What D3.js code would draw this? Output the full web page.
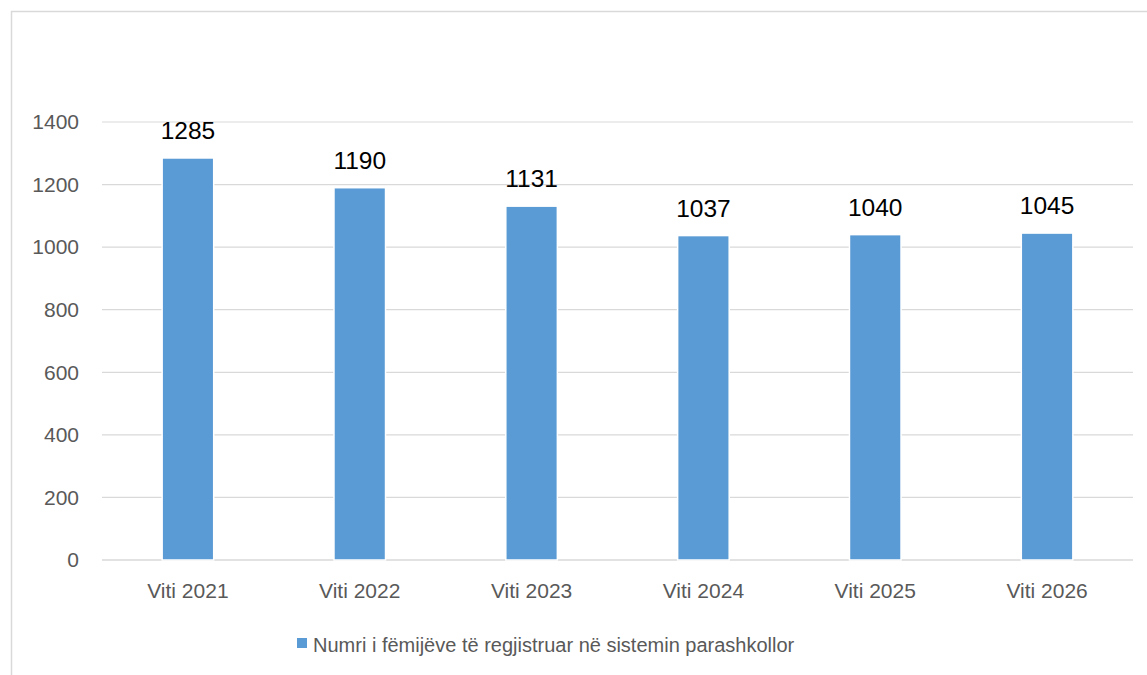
<!DOCTYPE html>
<html>
<head>
<meta charset="UTF-8">
<script src="https://d3js.org/d3.v7.min.js"></script>
<style>
  body { margin: 0; background: #fff; }
  .tick-label { font: 21px "Liberation Sans", Arial, sans-serif; fill: #595959; }
  .legend-label { font: 20px "Liberation Sans", Arial, sans-serif; fill: #595959; }
  .data-label { font: 24.5px "Liberation Sans", Arial, sans-serif; fill: #000; }
</style>
</head>
<body>
<svg id="chart" width="1147" height="675"></svg>
<script>
var categories = ["Viti 2021", "Viti 2022", "Viti 2023", "Viti 2024", "Viti 2025", "Viti 2026"];
var values = [1285, 1190, 1131, 1037, 1040, 1045];
var yTicks = [0, 200, 400, 600, 800, 1000, 1200, 1400];
var seriesName = "Numri i fëmijëve të regjistruar në sistemin parashkollor";

var svg = d3.select("#chart");

// chart frame (left + top edges visible)
svg.append("rect")
    .attr("x", 11.5).attr("y", 11.5)
    .attr("width", 1160).attr("height", 700)
    .attr("fill", "none")
    .attr("stroke", "#d9d9d9")
    .attr("stroke-width", 1.5);

var plot = { left: 102, right: 1133, top: 122, bottom: 560 };

var x = d3.scaleBand()
    .domain(categories)
    .range([plot.left, plot.right])
    .paddingInner(0.7)
    .paddingOuter(0.35);

var y = d3.scaleLinear()
    .domain([0, 1400])
    .range([plot.bottom, plot.top]);

// gridlines
svg.append("g").selectAll("line")
    .data(yTicks)
    .join("line")
    .attr("x1", plot.left).attr("x2", plot.right)
    .attr("y1", d => y(d)).attr("y2", d => y(d))
    .attr("stroke", "#d9d9d9")
    .attr("stroke-width", d => d === 0 ? 1.5 : 1.2);

// y tick labels
svg.append("g").selectAll("text")
    .data(yTicks)
    .join("text")
    .attr("class", "tick-label")
    .attr("x", 79)
    .attr("y", d => y(d))
    .attr("dy", "0.35em")
    .attr("text-anchor", "end")
    .text(d => d);

// bars
svg.append("g").selectAll("rect")
    .data(values)
    .join("rect")
    .attr("x", (d, i) => x(categories[i]))
    .attr("y", d => y(d))
    .attr("width", x.bandwidth())
    .attr("height", d => y(0) - y(d))
    .attr("fill", "#5b9bd5")
    .attr("stroke", "#fff")
    .attr("stroke-width", 1.5);

// data labels
svg.append("g").selectAll("text")
    .data(values)
    .join("text")
    .attr("class", "data-label")
    .attr("x", (d, i) => x(categories[i]) + x.bandwidth() / 2)
    .attr("y", d => y(d) - 19)
    .attr("text-anchor", "middle")
    .text(d => d);

// x labels
svg.append("g").selectAll("text")
    .data(categories)
    .join("text")
    .attr("class", "tick-label")
    .attr("x", d => x(d) + x.bandwidth() / 2)
    .attr("y", 598)
    .attr("text-anchor", "middle")
    .text(d => d);

// legend
var legend = svg.append("g").attr("transform", "translate(297,638)");
legend.append("rect")
    .attr("width", 10).attr("height", 10)
    .attr("fill", "#5b9bd5");
legend.append("text")
    .attr("class", "legend-label")
    .attr("x", 16)
    .attr("y", 14)
    .text(seriesName);
</script>
</body>
</html>
